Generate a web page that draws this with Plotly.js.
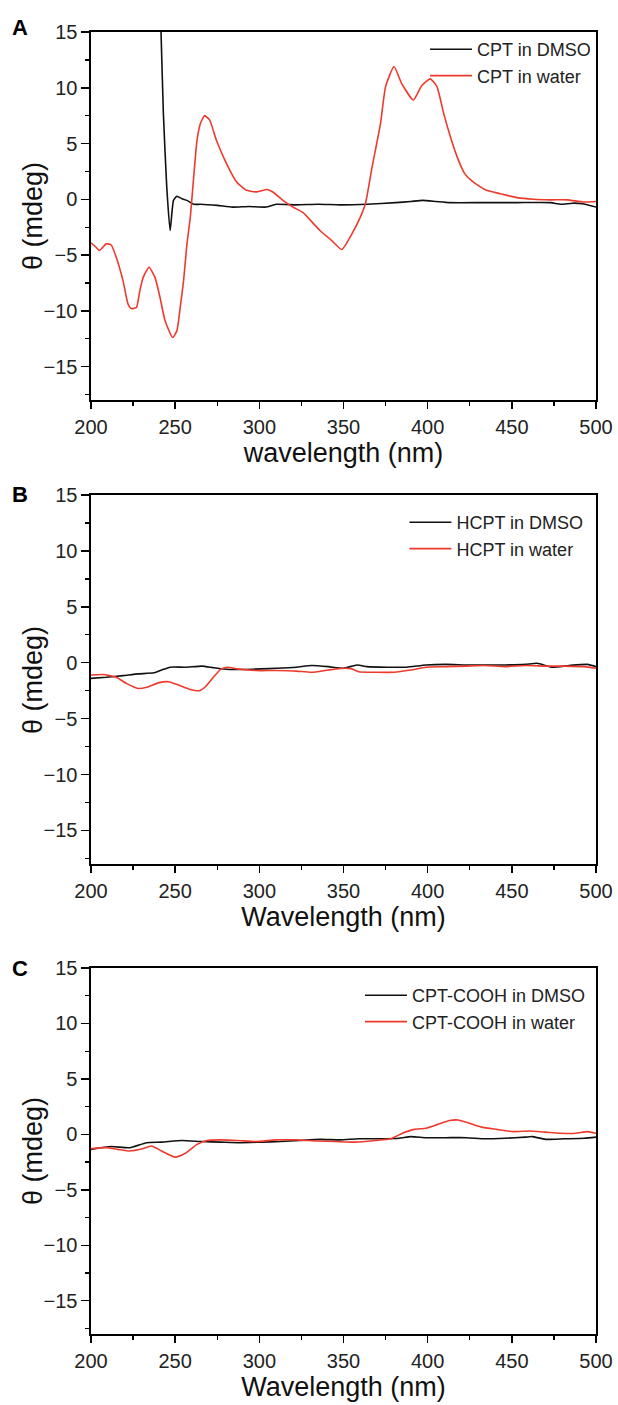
<!DOCTYPE html>
<html>
<head>
<meta charset="utf-8">
<script src="https://cdn.plot.ly/plotly-3.0.1.min.js"></script>
<style>
  html, body { margin: 0; padding: 0; background: #fff; }
  #chart { width: 618px; height: 1405px; }
</style>
</head>
<body>
<div id="chart"></div>
<script>
// ---- Panel A: CPT ----
const wlA_dmso = [240, 241.6, 243, 245, 247, 249, 251, 254, 257, 261, 265, 275, 284, 294, 304, 310, 322, 335, 348, 364, 381, 390, 397, 405, 413, 433, 453, 473, 479, 486, 492, 500];
const thA_dmso = [23, 15, 7.7, 1.1, -2.8, -0.1, 0.27, 0.05, -0.1, -0.45, -0.45, -0.55, -0.7, -0.65, -0.7, -0.45, -0.5, -0.45, -0.5, -0.45, -0.3, -0.2, -0.1, -0.2, -0.3, -0.3, -0.3, -0.3, -0.45, -0.35, -0.4, -0.7];
const wlA_water = [200, 203, 205, 207, 209, 212, 215, 219, 222, 224, 227, 229, 231, 234.5, 238, 241, 244, 248.5, 251, 253, 255, 257, 259, 261, 263, 265, 267.5, 270.5, 274.5, 280.5, 286.5, 292.5, 298.5, 304.5, 308, 314, 320, 326, 336, 343, 349, 355, 360, 363, 367, 372, 375, 380, 384.5, 391.5, 396.5, 401.5, 405.5, 409.5, 413.5, 417.5, 422, 427, 435, 443, 453, 463, 473, 483, 492.5, 500];
const thA_water = [-3.9, -4.3, -4.6, -4.3, -4.0, -4.1, -5.2, -7.3, -9.4, -9.8, -9.7, -8.2, -7.0, -6.1, -7.0, -8.8, -10.9, -12.4, -11.8, -9.7, -7.3, -4.0, -1.6, 2.0, 5.3, 6.8, 7.5, 7.1, 5.3, 3.2, 1.55, 0.8, 0.66, 0.87, 0.65, -0.1, -0.7, -1.2, -2.8, -3.7, -4.5, -3.1, -1.6, -0.4, 2.9, 6.8, 10.1, 11.9, 10.4, 8.9, 10.2, 10.8, 10.1, 7.7, 5.6, 3.8, 2.3, 1.55, 0.8, 0.5, 0.15, 0.0, -0.05, -0.05, -0.25, -0.2];

// ---- Panel B: HCPT ----
const wlB_dmso = [200, 209, 219, 228, 237.5, 242, 247, 256, 266, 273, 282, 291, 301, 310, 322, 331, 341, 350, 358, 364, 376, 387.5, 399, 411, 423, 434, 446, 458, 465, 474, 484, 495, 500];
const thB_dmso = [-1.4, -1.3, -1.15, -1.0, -0.9, -0.65, -0.4, -0.4, -0.3, -0.45, -0.6, -0.6, -0.55, -0.5, -0.4, -0.25, -0.35, -0.5, -0.2, -0.35, -0.4, -0.4, -0.2, -0.15, -0.2, -0.2, -0.2, -0.15, -0.05, -0.4, -0.25, -0.15, -0.35];
const wlB_water = [200, 207, 215, 221, 228, 233, 240, 246, 252, 259, 264.5, 268, 273, 277, 281, 287, 298, 310, 322, 331, 341, 350, 355, 359, 369, 380, 390, 399, 411, 423, 434, 446, 458, 470, 481, 493, 500];
const thB_water = [-1.1, -1.05, -1.3, -1.85, -2.3, -2.2, -1.8, -1.7, -2.0, -2.4, -2.5, -2.15, -1.25, -0.6, -0.4, -0.55, -0.7, -0.7, -0.75, -0.85, -0.65, -0.5, -0.55, -0.8, -0.85, -0.85, -0.65, -0.4, -0.35, -0.3, -0.25, -0.35, -0.25, -0.3, -0.3, -0.35, -0.5];

// ---- Panel C: CPT-COOH ----
const wlC_dmso = [200, 212, 223, 233, 242, 254, 266, 277, 289, 301, 312.5, 324, 336, 348, 359, 371, 383, 390, 399, 411, 423, 434, 446, 458, 462, 470, 481, 493, 500];
const thC_dmso = [-1.35, -1.1, -1.2, -0.75, -0.7, -0.55, -0.65, -0.7, -0.75, -0.7, -0.65, -0.55, -0.45, -0.5, -0.4, -0.4, -0.35, -0.2, -0.3, -0.3, -0.3, -0.4, -0.35, -0.25, -0.2, -0.45, -0.4, -0.35, -0.25];
const wlC_water = [200, 209, 216, 223, 230.5, 236, 242, 250, 256, 263, 269, 277, 287, 298, 310, 322, 334, 345, 357, 369, 378, 385, 392, 399, 406, 413, 418, 424, 432, 441, 451, 460, 470, 479, 488, 495, 500];
const thC_water = [-1.3, -1.2, -1.35, -1.5, -1.3, -1.05, -1.5, -2.05, -1.7, -0.9, -0.55, -0.5, -0.55, -0.65, -0.5, -0.5, -0.6, -0.65, -0.7, -0.55, -0.4, 0.1, 0.45, 0.55, 0.9, 1.25, 1.3, 1.05, 0.65, 0.45, 0.25, 0.3, 0.2, 0.1, 0.1, 0.25, 0.1];

// ---- labels ----
const namesA = ['CPT in DMSO', 'CPT in water'];
const namesB = ['HCPT in DMSO', 'HCPT in water'];
const namesC = ['CPT-COOH in DMSO', 'CPT-COOH in water'];
const xTitles = ['wavelength (nm)', 'Wavelength (nm)', 'Wavelength (nm)'];
const yTitle = 'θ (mdeg)';
const panelLetters = ['A', 'B', 'C'];

const BLACK = '#111111';
const RED = '#ee3a2c';
const FONT = 'Liberation Sans, Arial, sans-serif';

function tr(x, y, name, color, xa, ya, lg) {
  return { x: x, y: y, name: name, type: 'scatter', mode: 'lines',
    line: { color: color, width: 1.6, shape: 'spline', smoothing: 0.5 },
    xaxis: xa, yaxis: ya, legend: lg, hoverinfo: 'skip' };
}

const data = [
  tr(wlA_dmso, thA_dmso, namesA[0], BLACK, 'x', 'y', 'legend'),
  tr(wlA_water, thA_water, namesA[1], RED, 'x', 'y', 'legend'),
  tr(wlB_dmso, thB_dmso, namesB[0], BLACK, 'x2', 'y2', 'legend2'),
  tr(wlB_water, thB_water, namesB[1], RED, 'x2', 'y2', 'legend2'),
  tr(wlC_dmso, thC_dmso, namesC[0], BLACK, 'x3', 'y3', 'legend3'),
  tr(wlC_water, thC_water, namesC[1], RED, 'x3', 'y3', 'legend3')
];

const H = 1405;
function fr(px) { return 1 - px / H; }
const domA = [fr(400), fr(32)];
const domB = [fr(864), fr(495)];
const domC = [fr(1334), fr(968)];

function xax(anchor, title) {
  return {
    anchor: anchor, domain: [0, 1], range: [200, 500], tick0: 200, dtick: 50,
    showline: true, linecolor: '#000', linewidth: 1.6, mirror: true,
    ticks: 'outside', ticklen: 7, tickwidth: 1.5, tickcolor: '#000',
    minor: { dtick: 25, ticks: 'outside', ticklen: 4, tickwidth: 1.3, tickcolor: '#000' },
    showgrid: false, zeroline: false, ticklabelstandoff: 1,
    tickfont: { family: FONT, size: 20, color: '#222' },
    title: { text: title, font: { family: FONT, size: 27, color: '#111' }, standoff: 3 }
  };
}
function yax(anchor, dom) {
  return {
    anchor: anchor, domain: dom, range: [-18, 15], tick0: 0, dtick: 5,
    showline: true, linecolor: '#000', linewidth: 1.6, mirror: true,
    ticks: 'outside', ticklen: 8, tickwidth: 1.5, tickcolor: '#000',
    minor: { dtick: 2.5, ticks: 'outside', ticklen: 4, tickwidth: 1.3, tickcolor: '#000' },
    showgrid: false, zeroline: false,
    tickfont: { family: FONT, size: 20, color: '#222' }
  };
}
function leg(ytop, x) {
  return { x: x, xanchor: 'right', y: ytop, yanchor: 'top', bgcolor: 'rgba(0,0,0,0)',
    font: { family: FONT, size: 18, color: '#222' }, itemwidth: 42, tracegroupgap: 0 };
}
function letter(t, ypx) {
  return { text: '<b>' + t + '</b>', xref: 'paper', yref: 'paper', x: (20 - 91) / 505, y: fr(ypx),
    xanchor: 'center', yanchor: 'middle', showarrow: false,
    font: { family: FONT, size: 22, color: '#000' } };
}
function ytitle(ypx) {
  return { text: yTitle, xref: 'paper', yref: 'paper', x: (33 - 91) / 505, y: fr(ypx),
    xanchor: 'center', yanchor: 'middle', textangle: -90, showarrow: false,
    font: { family: FONT, size: 27, color: '#111' } };
}

const layout = {
  width: 618, height: H,
  margin: { l: 91, r: 22, t: 0, b: 0 },
  paper_bgcolor: '#fff', plot_bgcolor: '#fff',
  showlegend: true,
  xaxis: xax('y', xTitles[0]),
  xaxis2: xax('y2', xTitles[1]),
  xaxis3: xax('y3', xTitles[2]),
  yaxis: yax('x', domA),
  yaxis2: yax('x2', domB),
  yaxis3: yax('x3', domC),
  legend: leg(fr(31), 1.0),
  legend2: leg(fr(504), 0.985),
  legend3: leg(fr(977), 0.99),
  annotations: [
    letter(panelLetters[0], 27), letter(panelLetters[1], 495), letter(panelLetters[2], 969),
    ytitle(216), ytitle(680), ytitle(1151)
  ]
};

Plotly.newPlot('chart', data, layout, { staticPlot: true, displayModeBar: false });
</script>
</body>
</html>
